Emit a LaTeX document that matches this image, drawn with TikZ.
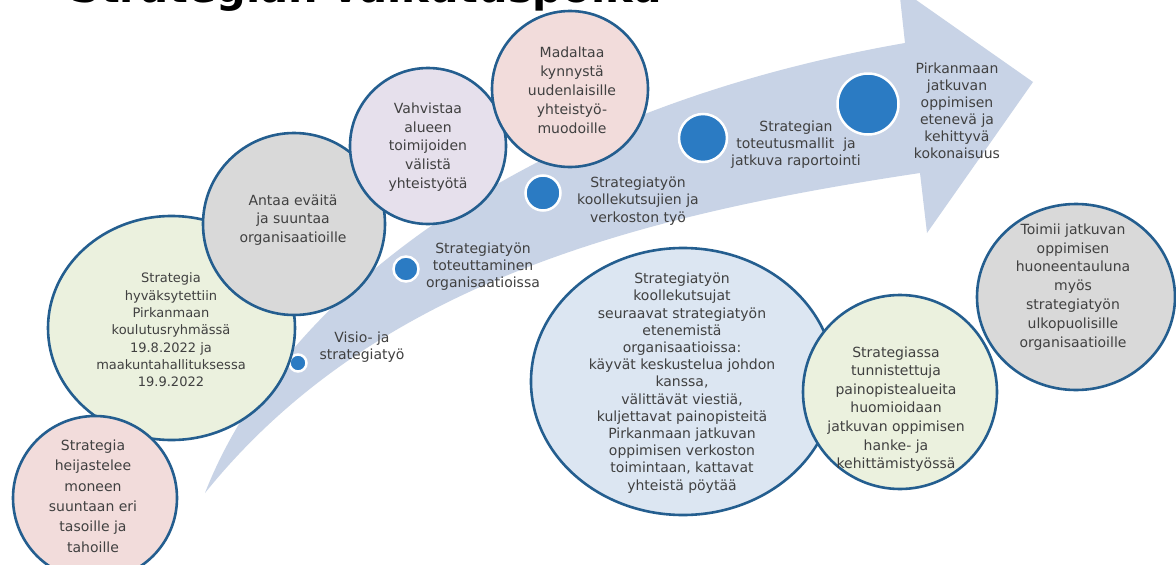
\documentclass[tikz,border=0pt]{standalone}
\usepackage{fontspec}
\setmainfont{DejaVu Sans}
\usetikzlibrary{shapes.geometric}
\definecolor{bandc}{HTML}{C8D3E6}
\definecolor{edgec}{HTML}{245E8F}
\definecolor{dotc}{HTML}{2B7BC3}
\definecolor{txtc}{HTML}{404040}
\definecolor{pinkc}{HTML}{F2DCDB}
\definecolor{greenc}{HTML}{EBF1DE}
\definecolor{grayc}{HTML}{D9D9D9}
\definecolor{lavc}{HTML}{E6E0EC}
\definecolor{bluec}{HTML}{DCE6F2}
\tikzset{
  bubble/.style={draw=edgec, line width=2.6pt, inner sep=0pt, outer sep=0pt},
  roundb/.style={bubble, circle, minimum size=#1},
  ovalw/.style={minimum width=#1},
  ovalh/.style={minimum height=#1},
  txt/.style={align=center, text=txtc, inner sep=0pt, font=\fontsize{14}{17.5}\selectfont},
  smalltxt/.style={txt, font=\fontsize{13}{17.3}\selectfont},
  dotb/.style={circle, fill=dotc, draw=white, line width=2.5pt, inner sep=0pt, minimum size=#1},
}
\begin{document}
\begin{tikzpicture}[x=1pt,y=-1pt]
\useasboundingbox (0,0) rectangle (1176,565);
\clip (0,0) rectangle (1176,565);
\fill[white] (0,0) rectangle (1176,565);

% title (cut off at the top, as in the reference)
\node[anchor=base west, inner sep=0pt, font=\fontsize{41.5}{45}\selectfont\bfseries, text=black] (title) at (70,2) {Strategian vaikutuspolku};

% curved arrow band
\fill[bandc] (205,493) .. controls (280,300) and (520,110) .. (905,43)
  -- (899,-12) -- (1033,82) -- (927,233) -- (920,173)
  .. controls (640,215) and (375,282) .. cycle;

% milestones on the band
\node[dotb=17pt] (d1) at (298,363) {};
\node[dotb=25pt] (d2) at (406,269) {};
\node[dotb=35pt] (d3) at (543,193) {};
\node[dotb=48pt] (d4) at (703,138) {};
\node[dotb=61pt] (d5) at (868,104) {};

\node[txt, font=\fontsize{14}{17}\selectfont] (l1) at (362,347) {Visio- ja\\strategiatyö};
\node[txt, font=\fontsize{14}{17}\selectfont] (l2) at (483,267) {Strategiatyön\\toteuttaminen\\organisaatioissa};
\node[txt, font=\fontsize{14}{17.5}\selectfont] (l3) at (638,201) {Strategiatyön\\koollekutsujien ja\\verkoston työ};
\node[txt, font=\fontsize{14}{17}\selectfont] (l4) at (796,145) {Strategian\\toteutusmallit\ \ ja\\jatkuva raportointi};
\node[txt, font=\fontsize{14}{17}\selectfont] (l5) at (957,111) {Pirkanmaan\\jatkuvan\\oppimisen\\etenevä ja\\kehittyvä\\kokonaisuus};

% bubbles, left group
\node[bubble, ellipse, fill=greenc, ovalw=247pt, ovalh=224pt] (c2) at (171.5,328) {};
\node[smalltxt] (t2) at (171,330) {Strategia\\hyväksytettiin\\Pirkanmaan\\koulutusryhmässä\\19.8.2022 ja\\maakuntahallituksessa\\19.9.2022};

\node[roundb=164pt, fill=pinkc] (c1) at (95,498) {};
\node[txt, font=\fontsize{14}{20.4}\selectfont] (t1) at (93,496) {Strategia\\heijastelee\\moneen\\suuntaan eri\\tasoille ja\\tahoille};

\node[roundb=182pt, fill=grayc] (c3) at (294,224) {};
\node[txt, font=\fontsize{14}{18.3}\selectfont] (t3) at (293,220) {Antaa eväitä\\ja suuntaa\\organisaatioille};

\node[roundb=156pt, fill=lavc] (c4) at (428,146) {};
\node[txt, font=\fontsize{14}{18.75}\selectfont] (t4) at (428,147) {Vahvistaa\\alueen\\toimijoiden\\välistä\\yhteistyötä};

\node[roundb=156pt, fill=pinkc] (c5) at (570,89) {};
\node[txt, font=\fontsize{14}{19}\selectfont] (t5) at (572,90) {Madaltaa\\kynnystä\\uudenlaisille\\yhteistyö-\\muodoille};

% bubbles, right group
\node[bubble, ellipse, fill=bluec, ovalw=304pt, ovalh=267pt] (c6) at (683,381.5) {};
\node[txt, font=\fontsize{14}{17.2}\selectfont] (t6) at (682,383) {Strategiatyön\\koollekutsujat\\seuraavat strategiatyön\\etenemistä\\organisaatioissa:\\käyvät keskustelua johdon\\kanssa,\\välittävät viestiä,\\kuljettavat painopisteitä\\Pirkanmaan jatkuvan\\oppimisen verkoston\\toimintaan, kattavat\\yhteistä pöytää};

\node[bubble, ellipse, fill=grayc, ovalw=198pt, ovalh=186pt] (c8) at (1076,297) {};
\node[txt, font=\fontsize{14}{18.9}\selectfont] (t8) at (1073,287) {Toimii jatkuvan\\oppimisen\\huoneentauluna\\myös\\strategiatyön\\ulkopuolisille\\organisaatioille};

\node[roundb=194pt, fill=greenc] (c7) at (900,392) {};
\node[txt, font=\fontsize{14}{18.6}\selectfont] (t7) at (896,409) {Strategiassa\\tunnistettuja\\painopistealueita\\huomioidaan\\jatkuvan oppimisen\\hanke- ja\\kehittämistyössä};
\end{tikzpicture}
\end{document}
